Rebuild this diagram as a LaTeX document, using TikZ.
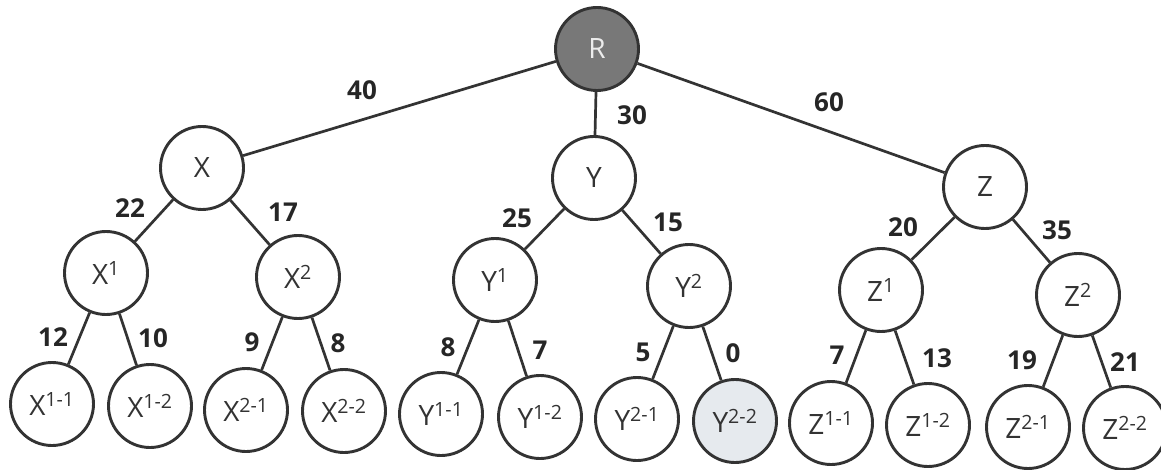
\documentclass[tikz,border=0pt]{standalone}
\usepackage{fontspec}
\setmainfont{Open Sans}
\usepackage{tikz}
\usetikzlibrary{positioning}

\definecolor{inkgray}{HTML}{333333}
\definecolor{rootgray}{HTML}{787878}
\definecolor{palegray}{HTML}{E6EAEE}

\tikzset{
  tnode/.style={circle, draw=inkgray, line width=2.9pt, minimum size=83pt, inner sep=0pt,
    fill=white, text=inkgray, font=\fontsize{28}{30}\selectfont},
  wlabel/.style={text=black!85, font=\fontsize{26}{28}\selectfont\bfseries},
  link/.style={draw=inkgray, line width=2.7pt}
}

\begin{document}
\begin{tikzpicture}[x=1pt, y=-1pt]
  \useasboundingbox (0,0) rectangle (1161,470);
  % Root and first level
  \node[tnode, fill=rootgray, text=white!85!gray] (R) at (597,49) {R};
  \node[tnode] (X) at (202,168) {X};
  \node[tnode] (Y) at (594,178) {Y};
  \node[tnode] (Z) at (985,187) {Z};
  % Second level
  \node[tnode] (X1) at (106,273) {X\textsuperscript{1}};
  \node[tnode] (X2) at (298,277) {X\textsuperscript{2}};
  \node[tnode] (Y1) at (495,280) {Y\textsuperscript{1}};
  \node[tnode] (Y2) at (689,286) {Y\textsuperscript{2}};
  \node[tnode] (Z1) at (881,290) {Z\textsuperscript{1}};
  \node[tnode] (Z2) at (1078,295) {Z\textsuperscript{2}};
  % Leaves
  \node[tnode] (X11) at (52,404) {X\textsuperscript{1-1}};
  \node[tnode] (X12) at (150,406) {X\textsuperscript{1-2}};
  \node[tnode] (X21) at (246,410) {X\textsuperscript{2-1}};
  \node[tnode] (X22) at (344,411) {X\textsuperscript{2-2}};
  \node[tnode] (Y11) at (441,414) {Y\textsuperscript{1-1}};
  \node[tnode] (Y12) at (540,417) {Y\textsuperscript{1-2}};
  \node[tnode] (Y21) at (637,419) {Y\textsuperscript{2-1}};
  \node[tnode, fill=palegray] (Y22) at (735,421) {Y\textsuperscript{2-2}};
  \node[tnode] (Z11) at (831,423) {Z\textsuperscript{1-1}};
  \node[tnode] (Z12) at (928,425) {Z\textsuperscript{1-2}};
  \node[tnode] (Z21) at (1028,427) {Z\textsuperscript{2-1}};
  \node[tnode] (Z22) at (1125,428) {Z\textsuperscript{2-2}};
  % Links
  \draw[link] (R) -- (X);
  \draw[link] (R) -- (Y);
  \draw[link] (R) -- (Z);
  \draw[link] (X) -- (X1);
  \draw[link] (X) -- (X2);
  \draw[link] (Y) -- (Y1);
  \draw[link] (Y) -- (Y2);
  \draw[link] (Z) -- (Z1);
  \draw[link] (Z) -- (Z2);
  \draw[link] (X1) -- (X11);
  \draw[link] (X1) -- (X12);
  \draw[link] (X2) -- (X21);
  \draw[link] (X2) -- (X22);
  \draw[link] (Y1) -- (Y11);
  \draw[link] (Y1) -- (Y12);
  \draw[link] (Y2) -- (Y21);
  \draw[link] (Y2) -- (Y22);
  \draw[link] (Z1) -- (Z11);
  \draw[link] (Z1) -- (Z12);
  \draw[link] (Z2) -- (Z21);
  \draw[link] (Z2) -- (Z22);
  % Weights
  \node[wlabel] (wRX) at (362,90) {40};
  \node[wlabel] (wRY) at (632,115) {30};
  \node[wlabel] (wRZ) at (829,102) {60};
  \node[wlabel] (wX1) at (130,208) {22};
  \node[wlabel] (wX2) at (283,212) {17};
  \node[wlabel] (wY1) at (517,218) {25};
  \node[wlabel] (wY2) at (668,222) {15};
  \node[wlabel] (wZ1) at (903,227) {20};
  \node[wlabel] (wZ2) at (1057,230) {35};
  \node[wlabel] (wX11) at (53,337) {12};
  \node[wlabel] (wX12) at (153,338) {10};
  \node[wlabel] (wX21) at (252,342) {9};
  \node[wlabel] (wX22) at (338,343) {8};
  \node[wlabel] (wY11) at (448,347) {8};
  \node[wlabel] (wY12) at (540,350) {7};
  \node[wlabel] (wY21) at (643,352) {5};
  \node[wlabel] (wY22) at (733,353) {0};
  \node[wlabel] (wZ11) at (837,355) {7};
  \node[wlabel] (wZ12) at (937,358) {13};
  \node[wlabel] (wZ21) at (1022,360) {19};
  \node[wlabel] (wZ22) at (1125,362) {21};
\end{tikzpicture}
\end{document}
